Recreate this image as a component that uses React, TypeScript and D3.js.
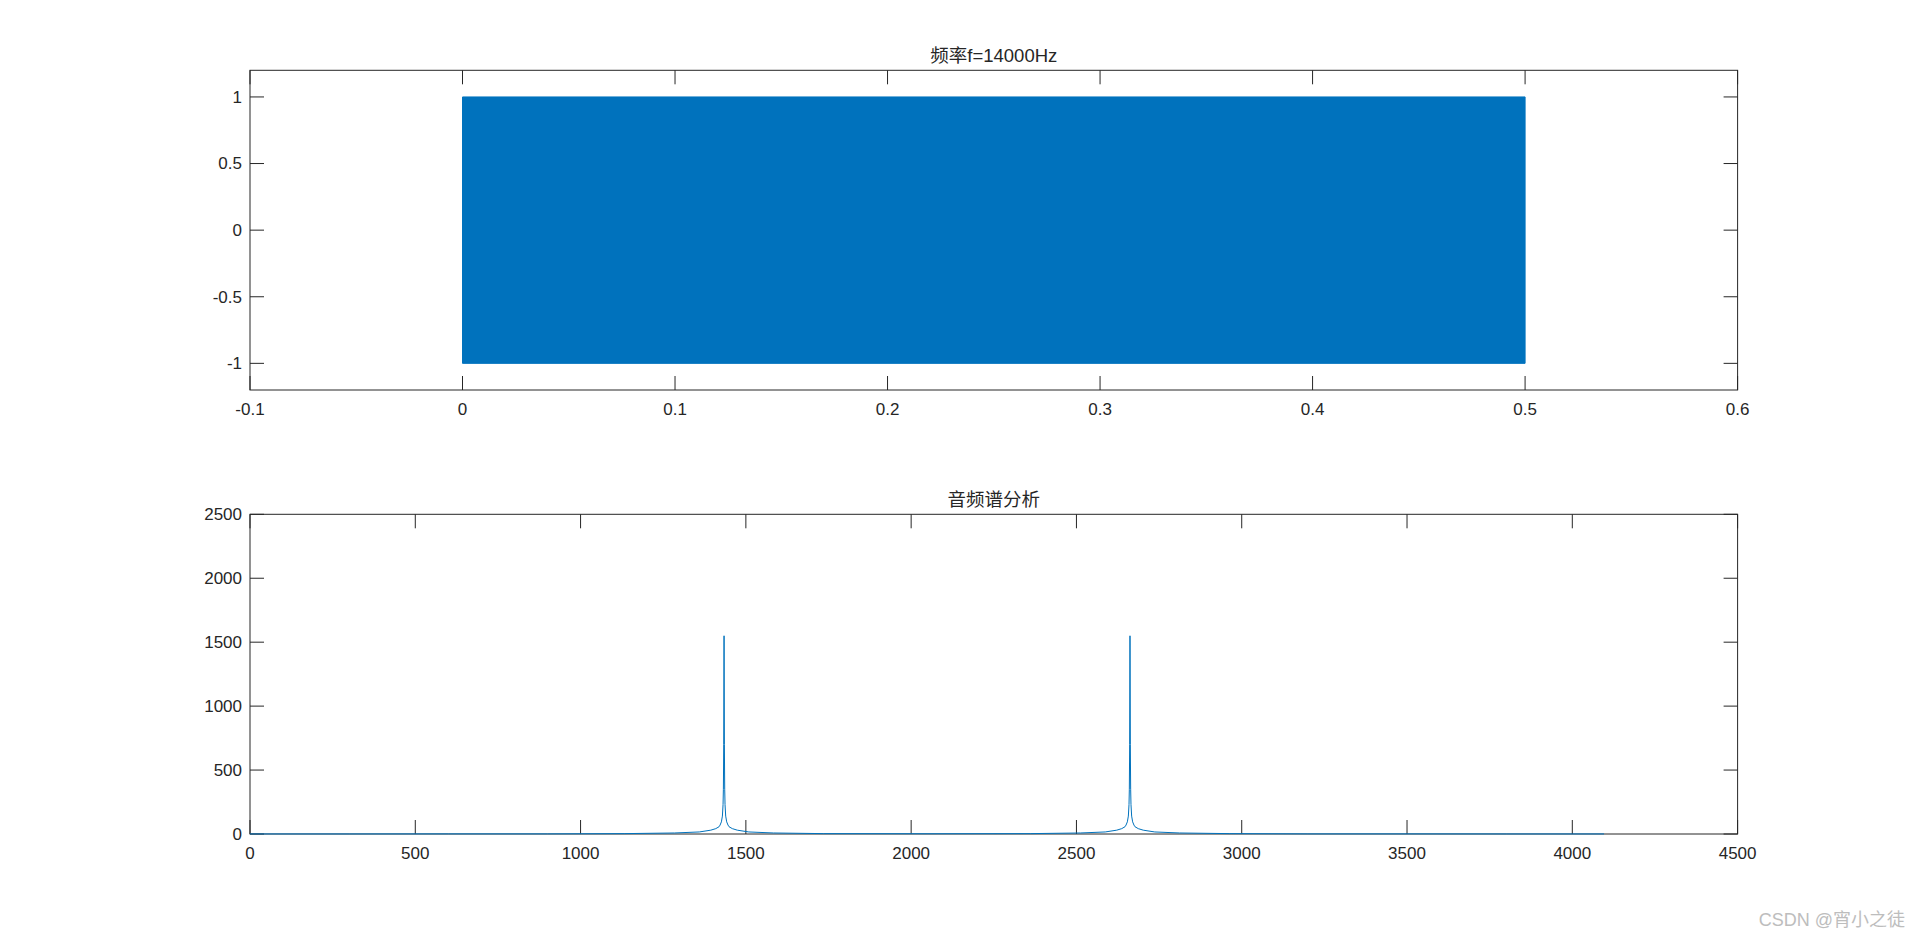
import React from 'react'
import * as d3 from 'd3'

// top panel: 14 kHz tone, too dense to resolve -> drawn as its envelope
const signalTime = [0, 0.5]
const signalUpper = [1, 1]
const signalLower = [-1, -1]

const topXTicks = [-0.1, 0, 0.1, 0.2, 0.3, 0.4, 0.5, 0.6]
const topXLabels = ['-0.1', '0', '0.1', '0.2', '0.3', '0.4', '0.5', '0.6']
const topYTicks = [-1, -0.5, 0, 0.5, 1]
const topYLabels = ['-1', '-0.5', '0', '0.5', '1']

// bottom panel: magnitude spectrum
const spectrumFreq = [
  0, 300, 600, 900, 1134, 1284, 1359, 1394, 1409, 1419, 1422, 1426, 1429, 1431, 1432, 1433, 1434,
  1435, 1436, 1437, 1439, 1442, 1446, 1449, 1459, 1474, 1509, 1584, 1734, 2048,
  2362, 2512, 2587, 2622, 2637, 2647, 2650, 2654, 2657, 2659, 2660, 2661, 2662,
  2663, 2664, 2665, 2667, 2670, 2674, 2677, 2687, 2702, 2737, 2812, 2962, 3200, 3500, 3800, 4096,
]
const spectrumMag = [
  0.5, 0.5, 1, 1, 3, 8, 16, 30, 42, 57, 70, 95, 140, 230, 350, 700, 1550,
  700, 350, 230, 140, 95, 70, 57, 42, 30, 16, 8, 3, 2,
  3, 8, 16, 30, 42, 57, 70, 95, 140, 230, 350, 700, 1550,
  700, 350, 230, 140, 95, 70, 57, 42, 30, 16, 8, 3, 1, 1, 0.5, 0.5,
]

const botXTicks = [0, 500, 1000, 1500, 2000, 2500, 3000, 3500, 4000, 4500]
const botYTicks = [0, 500, 1000, 1500, 2000, 2500]

const W = 1920
const H = 937
const left = 250
const right = 1737.6
const topPanel = { top: 70.3, bottom: 390 }
const botPanel = { top: 514.3, bottom: 834 }
const axisColor = '#262626'
const lineColor = '#0072BD'
const font = '"Liberation Sans", Arial, "Noto Sans CJK SC", sans-serif'
const tickLen = 14

function Axes({ x, y, xTicks, xLabels, yTicks, yLabels, top, bottom, title }: any) {
  return (
    <g>
      <rect x={left} y={top} width={right - left} height={bottom - top} fill="none" stroke={axisColor} strokeWidth={1} />
      {xTicks.map((t: number, i: number) => (
        <g key={'x' + i}>
          <line x1={x(t)} x2={x(t)} y1={bottom} y2={bottom - tickLen} stroke={axisColor} />
          <line x1={x(t)} x2={x(t)} y1={top} y2={top + tickLen} stroke={axisColor} />
          <text x={x(t)} y={bottom + 25} textAnchor="middle" fontSize={17} fill={axisColor}>
            {xLabels[i]}
          </text>
        </g>
      ))}
      {yTicks.map((t: number, i: number) => (
        <g key={'y' + i}>
          <line x1={left} x2={left + tickLen} y1={y(t)} y2={y(t)} stroke={axisColor} />
          <line x1={right} x2={right - tickLen} y1={y(t)} y2={y(t)} stroke={axisColor} />
          <text x={left - 8} y={y(t)} dy="0.35em" textAnchor="end" fontSize={17} fill={axisColor}>
            {yLabels[i]}
          </text>
        </g>
      ))}
      <text x={(left + right) / 2} y={top - 8} textAnchor="middle" fontSize={18.5} fill={axisColor}>
        {title}
      </text>
    </g>
  )
}

export default function App() {
  const xTop = d3.scaleLinear().domain([-0.1, 0.6]).range([left, right])
  const yTop = d3.scaleLinear().domain([-1.2, 1.2]).range([topPanel.bottom, topPanel.top])
  const xBot = d3.scaleLinear().domain([0, 4500]).range([left, right])
  const yBot = d3.scaleLinear().domain([0, 2500]).range([botPanel.bottom, botPanel.top])

  const envelope = d3.area<number>()
    .x((_, i) => xTop(signalTime[i]))
    .y0((_, i) => yTop(signalLower[i]))
    .y1((_, i) => yTop(signalUpper[i]))

  const spectrum = d3.line<number>()
    .x((_, i) => xBot(spectrumFreq[i]))
    .y((d) => yBot(d))

  return (
    <svg width={W} height={H} style={{ position: 'absolute', left: 0, top: 0, background: '#fff' }} fontFamily={font}>
      <rect width={W} height={H} fill="#fff" />
      <path d={envelope(signalTime) || ''} fill={lineColor} stroke={lineColor} strokeWidth={1} />
      <Axes x={xTop} y={yTop} xTicks={topXTicks} xLabels={topXLabels} yTicks={topYTicks} yLabels={topYLabels}
        top={topPanel.top} bottom={topPanel.bottom} title="频率f=14000Hz" />

      <Axes x={xBot} y={yBot} xTicks={botXTicks} xLabels={botXTicks.map(String)} yTicks={botYTicks} yLabels={botYTicks.map(String)}
        top={botPanel.top} bottom={botPanel.bottom} title="音频谱分析" />
      <path d={spectrum(spectrumMag) || ''} fill="none" stroke={lineColor} strokeWidth={1} />

      <text x={1905} y={926} textAnchor="end" fontSize={18} fill="#bdbdbd">CSDN @宵小之徒</text>
    </svg>
  )
}
